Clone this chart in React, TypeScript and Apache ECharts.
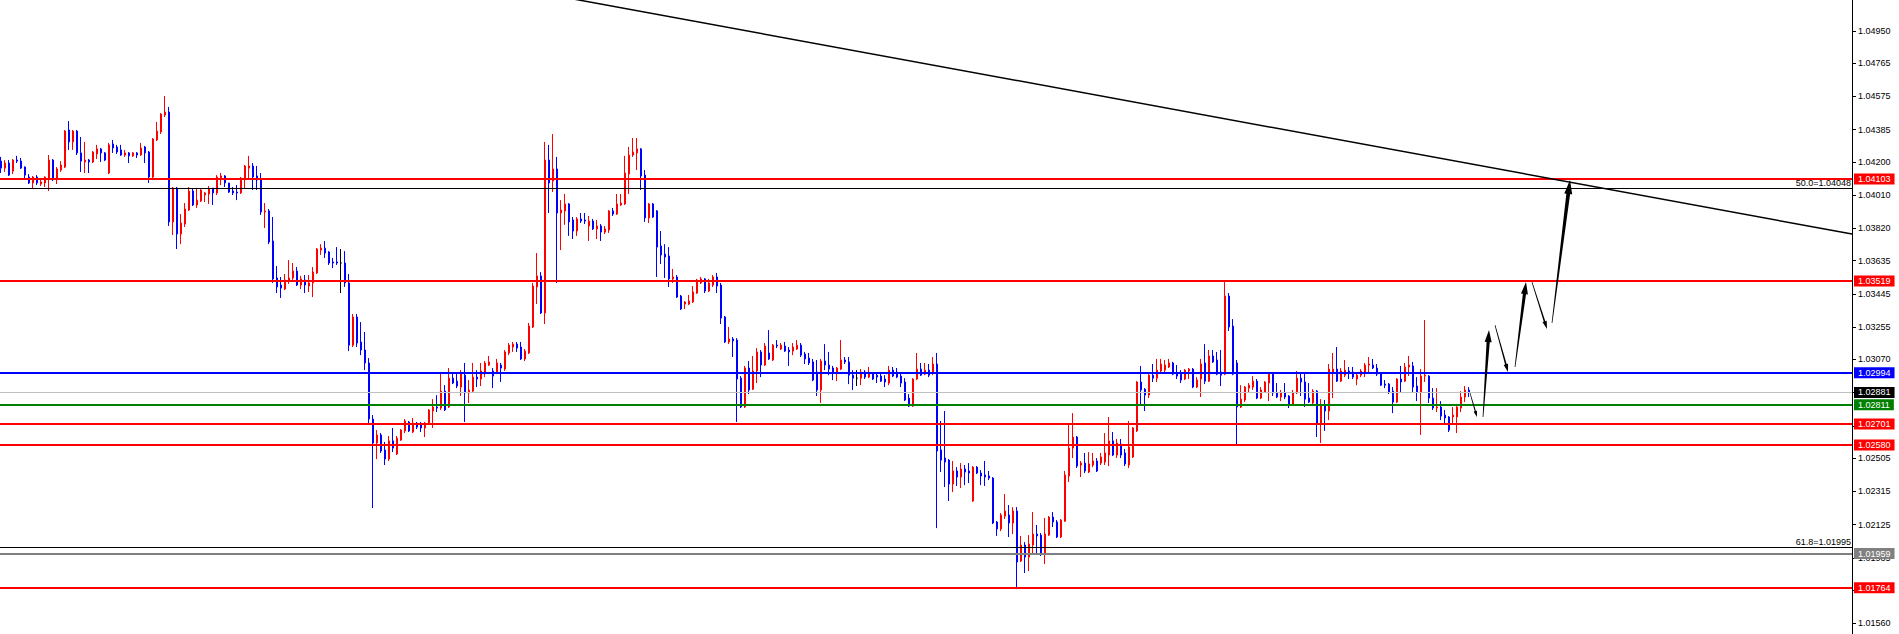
import React, { useEffect, useRef } from 'react';
import * as echarts from 'echarts';

// [open, close, low, high]
const candlesA = [
  [1.04205,1.04165,1.04137,1.04229],[1.04165,1.04194,1.04143,1.04211],[1.04194,1.04125,1.04120,1.04211],[1.04148,1.04211,1.04131,1.04217],[1.04211,1.04205,1.04194,1.04235],
  [1.04205,1.04165,1.04160,1.04223],[1.04171,1.04125,1.04097,1.04175],[1.04114,1.04080,1.04074,1.04131],[1.04080,1.04114,1.04051,1.04120],[1.04114,1.04080,1.04068,1.04125],
  [1.04074,1.04086,1.04063,1.04097],[1.04080,1.04114,1.04057,1.04118],[1.04108,1.04211,1.04034,1.04240],[1.04211,1.04108,1.04091,1.04217],[1.04108,1.04160,1.04074,1.04171],
  [1.04154,1.04183,1.04143,1.04205],[1.04171,1.04377,1.04165,1.04383],[1.04383,1.04315,1.04269,1.04434],[1.04315,1.04377,1.04269,1.04383],[1.04377,1.04252,1.04240,1.04383],
  [1.04252,1.04205,1.04143,1.04343],[1.04200,1.04211,1.04137,1.04315],[1.04211,1.04200,1.04137,1.04217],[1.04200,1.04257,1.04194,1.04263],[1.04246,1.04275,1.04217,1.04298],
  [1.04275,1.04252,1.04200,1.04280],[1.04252,1.04211,1.04205,1.04257],[1.04137,1.04298,1.04131,1.04309],[1.04303,1.04280,1.04252,1.04326],[1.04286,1.04257,1.04246,1.04298],
  [1.04269,1.04240,1.04235,1.04298],[1.04240,1.04252,1.04229,1.04269],[1.04252,1.04235,1.04194,1.04257],[1.04235,1.04252,1.04229,1.04257],[1.04252,1.04240,1.04223,1.04257],
  [1.04240,1.04280,1.04235,1.04309],[1.04286,1.04252,1.04194,1.04292],[1.04257,1.04114,1.04080,1.04263],[1.04114,1.04332,1.04108,1.04337],[1.04326,1.04377,1.04320,1.04429],
  [1.04372,1.04474,1.04360,1.04480],[1.04469,1.04486,1.04457,1.04578],[1.04486,1.03857,1.03834,1.04515],[1.03857,1.04051,1.03782,1.04057],[1.04051,1.03788,1.03702,1.04057],
  [1.03788,1.03851,1.03730,1.03902],[1.03845,1.03931,1.03828,1.03965],[1.03925,1.04034,1.03920,1.04057],[1.04034,1.03954,1.03948,1.04051],[1.03954,1.03982,1.03937,1.04051],
  [1.03977,1.04040,1.03971,1.04051],[1.04011,1.04023,1.03971,1.04028],[1.04017,1.04045,1.03960,1.04063],[1.04051,1.04023,1.03954,1.04051],[1.04023,1.04114,1.04011,1.04125],
  [1.04102,1.04120,1.04068,1.04137],[1.04120,1.04080,1.04057,1.04125],[1.04080,1.04028,1.04023,1.04080],[1.04034,1.04023,1.04011,1.04057],[1.04028,1.04023,1.03982,1.04068],
  [1.04023,1.04108,1.04017,1.04114],[1.04108,1.04177,1.04051,1.04183],[1.04165,1.04177,1.04102,1.04235],[1.04177,1.04114,1.04040,1.04194],[1.04120,1.04097,1.04040,1.04177],
  [1.04102,1.03914,1.03897,1.04137],[1.03914,1.03920,1.03822,1.03965],[1.03920,1.03742,1.03730,1.03931],[1.03748,1.03531,1.03508,1.03885],[1.03536,1.03485,1.03450,1.03605],
  [1.03496,1.03479,1.03422,1.03542],[1.03473,1.03525,1.03467,1.03559],[1.03519,1.03536,1.03502,1.03639],[1.03536,1.03576,1.03525,1.03622],[1.03576,1.03496,1.03490,1.03599],
  [1.03496,1.03531,1.03473,1.03548],[1.03525,1.03496,1.03450,1.03553],[1.03490,1.03508,1.03456,1.03553],[1.03508,1.03570,1.03427,1.03599],[1.03565,1.03702,1.03559,1.03707],
  [1.03696,1.03707,1.03668,1.03730],[1.03707,1.03679,1.03651,1.03748],[1.03685,1.03622,1.03611,1.03690],[1.03628,1.03622,1.03593,1.03651],[1.03628,1.03622,1.03611,1.03713],
  [1.03622,1.03622,1.03450,1.03702],[1.03622,1.03508,1.03485,1.03690],[1.03508,1.03152,1.03118,1.03559],[1.03152,1.03313,1.03141,1.03330],[1.03313,1.03164,1.03141,1.03330],
  [1.03170,1.03124,1.03095,1.03284],[1.03124,1.03050,1.03009,1.03227],[1.03050,1.02729,1.02706,1.03078],[1.02729,1.02592,1.02220,1.02752],[1.02592,1.02638,1.02500,1.02666],
  [1.02638,1.02546,1.02535,1.02649],[1.02552,1.02500,1.02466,1.02598],[1.02500,1.02604,1.02489,1.02632],[1.02604,1.02563,1.02540,1.02678],[1.02529,1.02620,1.02523,1.02632],
];
const candlesB = [
  [1.02609,1.02666,1.02604,1.02672],[1.02661,1.02718,1.02649,1.02729],[1.02712,1.02661,1.02655,1.02718],[1.02655,1.02706,1.02649,1.02735],[1.02706,1.02683,1.02672,1.02712],
  [1.02700,1.02678,1.02655,1.02712],[1.02678,1.02706,1.02626,1.02712],[1.02700,1.02781,1.02695,1.02786],[1.02775,1.02798,1.02678,1.02843],[1.02798,1.02792,1.02769,1.02866],
  [1.02792,1.02889,1.02781,1.02992],[1.02889,1.02781,1.02775,1.02923],[1.02798,1.02963,1.02792,1.03021],[1.02963,1.02935,1.02929,1.02992],[1.02946,1.02918,1.02906,1.02992],
  [1.02912,1.02986,1.02861,1.03009],[1.02980,1.02878,1.02712,1.03050],[1.02878,1.02895,1.02821,1.02952],[1.02889,1.02969,1.02883,1.03050],[1.02969,1.02958,1.02912,1.03009],
  [1.02958,1.03004,1.02918,1.03050],[1.02998,1.03050,1.02969,1.03061],[1.03038,1.03056,1.03033,1.03090],[1.03004,1.02975,1.02906,1.03021],[1.02992,1.03050,1.02986,1.03073],
  [1.03038,1.03021,1.02941,1.03050],[1.03015,1.03113,1.03004,1.03124],[1.03107,1.03152,1.03095,1.03164],[1.03141,1.03158,1.03113,1.03170],[1.03158,1.03135,1.03113,1.03170],
  [1.03141,1.03073,1.03067,1.03170],[1.03073,1.03118,1.03061,1.03130],[1.03107,1.03261,1.03101,1.03279],[1.03256,1.03490,1.03250,1.03508],[1.03485,1.03548,1.03387,1.03679],
  [1.03548,1.03336,1.03330,1.03570],[1.03336,1.04211,1.03273,1.04315],[1.04211,1.04080,1.03908,1.04298],[1.04091,1.04160,1.04028,1.04360],[1.04160,1.03908,1.03508,1.04229],
  [1.03908,1.03925,1.03696,1.03982],[1.03920,1.03960,1.03840,1.04017],[1.03960,1.03857,1.03777,1.03965],[1.03868,1.03805,1.03759,1.03885],[1.03805,1.03874,1.03777,1.03885],
  [1.03874,1.03862,1.03851,1.03908],[1.03868,1.03862,1.03845,1.03908],[1.03834,1.03862,1.03748,1.03891],[1.03862,1.03817,1.03811,1.03874],[1.03817,1.03834,1.03759,1.03868],
  [1.03834,1.03799,1.03748,1.03845],[1.03799,1.03817,1.03788,1.03834],[1.03811,1.03920,1.03794,1.03925],[1.03920,1.03902,1.03891,1.03937],[1.03902,1.03960,1.03897,1.04017],
  [1.03954,1.03965,1.03948,1.04017],[1.03960,1.04137,1.03954,1.04235],[1.04131,1.04240,1.04017,1.04286],[1.04240,1.04257,1.04229,1.04337],[1.04252,1.04275,1.04154,1.04337],
  [1.04275,1.04120,1.04040,1.04280],[1.04125,1.03880,1.03857,1.04154],[1.03880,1.03960,1.03851,1.03965],[1.03960,1.03885,1.03880,1.03965],[1.03920,1.03713,1.03542,1.03925],
  [1.03719,1.03668,1.03616,1.03805],[1.03673,1.03656,1.03536,1.03730],[1.03662,1.03531,1.03485,1.03713],[1.03531,1.03542,1.03508,1.03588],[1.03542,1.03427,1.03422,1.03553],
  [1.03433,1.03359,1.03353,1.03439],[1.03387,1.03399,1.03359,1.03404],[1.03387,1.03404,1.03381,1.03439],[1.03399,1.03456,1.03393,1.03490],[1.03450,1.03525,1.03445,1.03531],
  [1.03508,1.03531,1.03502,1.03542],[1.03531,1.03462,1.03450,1.03536],[1.03462,1.03508,1.03456,1.03531],[1.03496,1.03542,1.03485,1.03553],[1.03542,1.03490,1.03450,1.03565],
  [1.03496,1.03307,1.03273,1.03508],[1.03313,1.03170,1.03164,1.03319],[1.03170,1.03187,1.03158,1.03256],[1.03187,1.03176,1.03084,1.03198],[1.03181,1.02958,1.02712,1.03192],
  [1.02963,1.02798,1.02792,1.02975],[1.02798,1.03021,1.02792,1.03033],[1.03021,1.02895,1.02872,1.03061],[1.02900,1.03004,1.02895,1.03090],[1.03004,1.03113,1.02935,1.03135],
  [1.03113,1.03038,1.02969,1.03124],[1.03038,1.03147,1.03033,1.03164],[1.03107,1.03073,1.03067,1.03238],[1.03067,1.03152,1.03061,1.03158],[1.03152,1.03147,1.03135,1.03181],
  [1.03130,1.03152,1.03124,1.03164],[1.03147,1.03118,1.03113,1.03170],[1.03124,1.03113,1.03033,1.03141],[1.03118,1.03141,1.03095,1.03164],[1.03130,1.03152,1.03124,1.03181],
];
const candlesC = [
  [1.03152,1.03095,1.03084,1.03164],[1.03101,1.03073,1.03044,1.03113],[1.03078,1.03050,1.03038,1.03107],[1.03056,1.02952,1.02946,1.03073],[1.02998,1.02895,1.02861,1.03067],
  [1.02895,1.03061,1.02821,1.03073],[1.03061,1.03038,1.03009,1.03158],[1.03038,1.03015,1.02980,1.03113],[1.03021,1.02992,1.02952,1.03033],[1.02992,1.03021,1.02946,1.03027],
  [1.03015,1.03067,1.03009,1.03181],[1.03067,1.03056,1.03044,1.03084],[1.03056,1.02980,1.02929,1.03084],[1.02980,1.02963,1.02895,1.03009],[1.02963,1.02963,1.02918,1.03009],
  [1.02963,1.02998,1.02923,1.03015],[1.02998,1.02969,1.02958,1.03009],[1.02969,1.02992,1.02963,1.03027],[1.02992,1.02958,1.02952,1.02998],[1.02980,1.02969,1.02935,1.02998],
  [1.02975,1.02946,1.02941,1.02998],[1.02958,1.02941,1.02912,1.02980],[1.02935,1.03009,1.02923,1.03033],[1.03009,1.02975,1.02969,1.03027],[1.02998,1.02969,1.02963,1.03021],
  [1.02975,1.02935,1.02912,1.02992],[1.02941,1.02838,1.02832,1.02963],[1.02849,1.02803,1.02798,1.02872],[1.02803,1.02958,1.02798,1.02963],[1.02958,1.03015,1.02952,1.03107],
  [1.03015,1.02980,1.02975,1.03050],[1.02986,1.03009,1.02980,1.03050],[1.03009,1.02980,1.02969,1.03044],[1.02992,1.03044,1.02980,1.03084],[1.03044,1.02546,1.02105,1.03107],
  [1.02552,1.02494,1.02426,1.02718],[1.02506,1.02483,1.02340,1.02775],[1.02494,1.02357,1.02260,1.02500],[1.02357,1.02432,1.02311,1.02489],[1.02432,1.02397,1.02346,1.02454],
  [1.02397,1.02443,1.02334,1.02477],[1.02443,1.02426,1.02351,1.02466],[1.02432,1.02420,1.02363,1.02477],[1.02260,1.02454,1.02255,1.02460],[1.02454,1.02420,1.02414,1.02460],
  [1.02420,1.02403,1.02351,1.02437],[1.02409,1.02397,1.02346,1.02489],[1.02403,1.02391,1.02380,1.02432],[1.02391,1.02134,1.02128,1.02397],[1.02140,1.02100,1.02060,1.02145],
  [1.02100,1.02180,1.02088,1.02191],[1.02174,1.02203,1.02157,1.02300],[1.02180,1.02134,1.02054,1.02237],[1.02134,1.02203,1.02071,1.02225],[1.02203,1.01911,1.01756,1.02225],
  [1.01917,1.02008,1.01911,1.02060],[1.02008,1.01939,1.01848,1.02025],[1.01939,1.02014,1.01859,1.02065],[1.02008,1.02071,1.01951,1.02197],[1.02071,1.02060,1.01951,1.02123],
  [1.02065,1.01962,1.01945,1.02077],[1.01962,1.02071,1.01899,1.02163],[1.02065,1.02168,1.02060,1.02174],[1.02168,1.02140,1.02111,1.02197],[1.02140,1.02054,1.02048,1.02151],
  [1.02054,1.02151,1.02048,1.02157],[1.02145,1.02409,1.02140,1.02432],[1.02403,1.02563,1.02369,1.02695],[1.02563,1.02626,1.02506,1.02763],[1.02626,1.02460,1.02449,1.02632],
  [1.02466,1.02477,1.02397,1.02489],[1.02477,1.02432,1.02420,1.02535],[1.02426,1.02472,1.02420,1.02540],[1.02466,1.02489,1.02454,1.02535],[1.02489,1.02432,1.02426,1.02506],
  [1.02477,1.02512,1.02466,1.02535],[1.02483,1.02535,1.02466,1.02649],[1.02523,1.02604,1.02460,1.02741],[1.02604,1.02523,1.02517,1.02655],[1.02523,1.02592,1.02506,1.02615],
  [1.02586,1.02523,1.02506,1.02615],[1.02535,1.02472,1.02460,1.02558],[1.02466,1.02569,1.02449,1.02718],[1.02512,1.02678,1.02506,1.02683],[1.02661,1.02941,1.02655,1.02946],
  [1.02941,1.02895,1.02809,1.03033],[1.02900,1.02866,1.02775,1.02906],[1.02866,1.02980,1.02849,1.02986],[1.02980,1.02963,1.02941,1.03044],[1.02963,1.03009,1.02941,1.03073],
  [1.03004,1.03044,1.02998,1.03073],[1.03009,1.03038,1.02992,1.03067],[1.03027,1.03050,1.03021,1.03073],[1.03050,1.02986,1.02980,1.03056],[1.02992,1.02975,1.02958,1.03038],
  [1.02986,1.02952,1.02935,1.03009],[1.02958,1.03009,1.02952,1.03015],[1.03004,1.03015,1.02958,1.03021],[1.03015,1.02912,1.02906,1.03021],[1.02912,1.02952,1.02906,1.02969],
];
const candlesD = [
  [1.02958,1.03044,1.02855,1.03073],[1.03050,1.02946,1.02929,1.03158],[1.02946,1.03090,1.02941,1.03124],[1.03090,1.03056,1.03050,1.03124],[1.03067,1.02986,1.02980,1.03113],
  [1.02998,1.02980,1.02918,1.03124],[1.02986,1.03433,1.02980,1.03513],[1.03433,1.03256,1.03233,1.03450],[1.03261,1.02986,1.02980,1.03301],[1.03050,1.02798,1.02580,1.03067],
  [1.02798,1.02843,1.02792,1.02923],[1.02838,1.02912,1.02826,1.02918],[1.02906,1.02923,1.02878,1.02935],[1.02912,1.02946,1.02895,1.02975],[1.02946,1.02849,1.02843,1.02958],
  [1.02849,1.02895,1.02843,1.02912],[1.02883,1.02941,1.02878,1.02946],[1.02935,1.02986,1.02832,1.02992],[1.02986,1.02878,1.02861,1.02992],[1.02878,1.02855,1.02849,1.02935],
  [1.02855,1.02878,1.02832,1.02895],[1.02878,1.02855,1.02843,1.02935],[1.02861,1.02809,1.02792,1.02866],[1.02815,1.02878,1.02809,1.02895],[1.02878,1.02963,1.02872,1.03004],
  [1.02963,1.02941,1.02861,1.02992],[1.02941,1.02843,1.02798,1.02992],[1.02849,1.02826,1.02821,1.02935],[1.02821,1.02889,1.02809,1.02900],[1.02889,1.02706,1.02626,1.02895],
  [1.02706,1.02809,1.02592,1.02843],[1.02809,1.02775,1.02661,1.02838],[1.02775,1.03015,1.02723,1.03044],[1.02998,1.03015,1.02849,1.03107],[1.03015,1.02946,1.02941,1.03141],
  [1.02946,1.03004,1.02941,1.03021],[1.02980,1.03009,1.02969,1.03067],[1.03004,1.02992,1.02958,1.03027],[1.02998,1.02969,1.02958,1.03027],[1.02958,1.02980,1.02923,1.02992],
  [1.02980,1.03004,1.02969,1.03015],[1.02998,1.03038,1.02969,1.03050],[1.03038,1.03044,1.02992,1.03084],[1.03038,1.03021,1.03015,1.03073],[1.03021,1.02986,1.02975,1.03044],
  [1.02992,1.02923,1.02918,1.02998],[1.02929,1.02923,1.02906,1.02952],[1.02929,1.02883,1.02872,1.02935],[1.02889,1.02826,1.02763,1.02912],[1.02826,1.02958,1.02821,1.02963],
  [1.02958,1.02941,1.02878,1.03033],[1.02946,1.03027,1.02941,1.03050],[1.03027,1.03038,1.02975,1.03090],[1.03033,1.02912,1.02883,1.03056],[1.02918,1.02883,1.02832,1.02969],
  [1.02883,1.02975,1.02638,1.03015],[1.02975,1.02980,1.02941,1.03296],[1.02975,1.02849,1.02821,1.02980],[1.02849,1.02792,1.02781,1.02906],[1.02792,1.02798,1.02769,1.02906],
  [1.02798,1.02746,1.02723,1.02832],[1.02752,1.02735,1.02706,1.02781],[1.02741,1.02666,1.02655,1.02746],[1.02741,1.02752,1.02706,1.02798],[1.02741,1.02798,1.02649,1.02803],
  [1.02792,1.02855,1.02769,1.02889],[1.02855,1.02895,1.02826,1.02918],[1.02895,1.02881,1.02855,1.02912],
];

const tickValues = [1.0495, 1.04765, 1.04575, 1.04385, 1.042, 1.0401, 1.0382, 1.03635, 1.03445, 1.03255, 1.0307, 1.0288, 1.0269, 1.02505, 1.02315, 1.02125, 1.01935, 1.0175, 1.0156];

const levelPrices = [1.04103, 1.03519, 1.02994, 1.02881, 1.02811, 1.02701, 1.0258, 1.01959, 1.01764];
const levelLineColors = ['#ff0000', '#ff0000', '#0000ff', '#c0c0c0', '#008000', '#ff0000', '#ff0000', '#808080', '#ff0000'];
const levelTagColors = ['#ff0000', '#ff0000', '#0000ff', '#000000', '#008000', '#ff0000', '#ff0000', '#808080', '#ff0000'];
const levelWidths = [2, 2, 2, 1, 2, 2, 2, 2, 2];

const fibLabels = ['50.0', '61.8'];
const fibPrices = [1.04048, 1.01995];

// trendline anchors: [bar index, price]
const trendFrom = [100, 1.05314];
const trendTo = [462.75, 1.03788];

// forecast arrows: [bar index, price]
const arrowFrom = [[367.25, 1.02878], [370.5, 1.02741], [373.5, 1.03267], [378.5, 1.03027], [382.75, 1.03513], [387.75, 1.03279]];
const arrowTo = [[369, 1.02741], [372, 1.03238], [376.75, 1.02998], [381.25, 1.03513], [386.5, 1.03244], [392.25, 1.04097]];
const arrowShaft = [1.2, 3.2, 1.6, 3.2, 1.6, 3.8];
const arrowHead = [3.5, 7, 4.5, 7, 4.5, 8];
const arrowHeadLen = [6, 12, 8, 12, 8, 14];

const FONT = '"Liberation Sans", Arial, sans-serif';

export default function App() {
  const ref = useRef<HTMLDivElement>(null);
  useEffect(() => {
    document.body.style.margin = '0';
    const chart = echarts.init(ref.current!, null, { renderer: 'svg' });
    const candles = [...candlesA, ...candlesB, ...candlesC, ...candlesD];
    const data = candles.map((c, i) => [i, c[0], c[1], Math.min(c[2], c[0], c[1]), Math.max(c[3], c[0], c[1])]);
    const arrows = arrowFrom.map((f, i) => [f[0], f[1], arrowTo[i][0], arrowTo[i][1], arrowShaft[i], arrowHead[i], arrowHeadLen[i]]);

    const levelSeries = levelPrices.map((p, i) => ({
      type: 'line',
      data: [],
      silent: true,
      z: 5,
      markLine: {
        silent: true,
        precision: 5,
        symbol: ['none', 'none'],
        animation: false,
        lineStyle: { color: levelLineColors[i], width: levelWidths[i], type: 'solid' },
        label: {
          show: true,
          position: 'end',
          formatter: p.toFixed(5),
          distance: 2,
          color: '#ffffff',
          backgroundColor: levelTagColors[i],
          padding: [1, 4, 0, 4],
          lineHeight: 10,
          fontSize: 9,
          fontFamily: FONT,
        },
        data: [{ yAxis: p }],
      },
    }));
    const fibSeries = fibPrices.map((p, i) => ({
      type: 'line',
      data: [],
      silent: true,
      z: 5,
      markLine: {
        silent: true,
        precision: 5,
        symbol: ['none', 'none'],
        animation: false,
        lineStyle: { color: '#000000', width: 1, type: 'solid' },
        label: {
          show: true,
          position: 'insideEndTop',
          formatter: fibLabels[i] + '=' + p.toFixed(5),
          distance: 1,
          color: '#000000',
          fontSize: 9,
          fontFamily: FONT,
        },
        data: [{ yAxis: p }],
      },
    }));

    chart.setOption({
      animation: false,
      backgroundColor: '#ffffff',
      grid: { left: 0, right: 47, top: 0, bottom: 0 },
      xAxis: {
        type: 'value', min: -0.25, max: 462.75, show: false,
        axisLine: { show: false }, axisTick: { show: false }, axisLabel: { show: false }, splitLine: { show: false },
      },
      yAxis: {
        type: 'value',
        position: 'right',
        min: 1.01499,
        max: 1.05127,
        axisLine: { show: true, onZero: false, lineStyle: { color: '#000000', width: 1 } },
        axisTick: { show: true, inside: false, length: 4, lineStyle: { color: '#000000' }, customValues: tickValues },
        axisLabel: {
          show: true,
          customValues: tickValues,
          formatter: (v: number) => v.toFixed(5),
          color: '#000000',
          fontSize: 9,
          fontFamily: FONT,
          margin: 6,
        },
        splitLine: { show: false },
      },
      series: [
        {
          type: 'candlestick',
          data,
          encode: { x: 0, y: [1, 2, 3, 4] },
          barWidth: 2,
          z: 2,
          itemStyle: {
            color: '#ff0000',
            color0: '#0000ff',
            borderColor: '#ff0000',
            borderColor0: '#0000ff',
            borderColorDoji: '#000000',
            borderWidth: 1,
          },
        },
        ...levelSeries,
        ...fibSeries,
        {
          type: 'line',
          data: [trendFrom, trendTo],
          symbol: 'none',
          silent: true,
          lineStyle: { color: '#000000', width: 1.5 },
          z: 6,
        },
        {
          type: 'custom',
          silent: true,
          z: 7,
          data: arrows,
          encode: { x: [0, 2], y: [1, 3] },
          renderItem: (params: any, api: any) => {
            const a = api.coord([api.value(0), api.value(1)]);
            const b = api.coord([api.value(2), api.value(3)]);
            const shaft = api.value(4);
            const head = api.value(5);
            const hl = api.value(6);
            const dx = b[0] - a[0];
            const dy = b[1] - a[1];
            const len = Math.hypot(dx, dy) || 1;
            const ux = dx / len;
            const uy = dy / len;
            const nx = -uy;
            const ny = ux;
            const bx = b[0] - ux * hl;
            const by = b[1] - uy * hl;
            const t = 0.35;
            const pts = [
              [a[0] + nx * t, a[1] + ny * t],
              [bx + (nx * shaft) / 2, by + (ny * shaft) / 2],
              [bx + (nx * head) / 2, by + (ny * head) / 2],
              [b[0], b[1]],
              [bx - (nx * head) / 2, by - (ny * head) / 2],
              [bx - (nx * shaft) / 2, by - (ny * shaft) / 2],
              [a[0] - nx * t, a[1] - ny * t],
            ];
            return { type: 'polygon', shape: { points: pts }, style: { fill: '#000000' } };
          },
        },
      ],
    });
    return () => chart.dispose();
  }, []);
  return (
    <div
      ref={ref}
      style={{ position: 'fixed', left: 0, top: 0, width: 1899, height: 634, background: '#ffffff' }}
    />
  );
}
